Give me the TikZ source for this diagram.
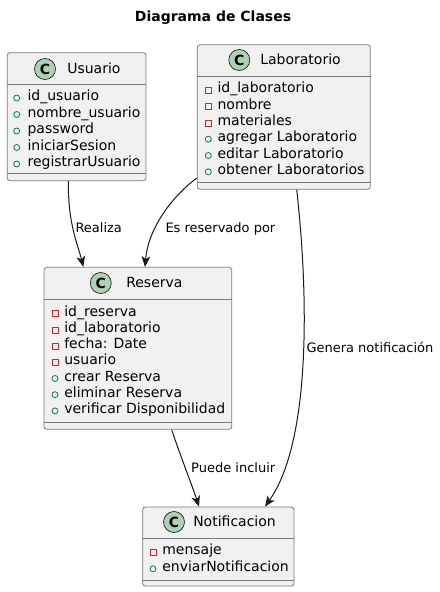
\documentclass[tikz,border=0pt]{standalone}
\usepackage{fontspec}
\setmainfont{DejaVu Sans}
\usetikzlibrary{fit,arrows.meta}

\definecolor{boxfill}{HTML}{F1F1F1}
\definecolor{umlline}{HTML}{181818}
\definecolor{boxline}{HTML}{7A7A7A}
\definecolor{circfill}{HTML}{ADD1B2}
\definecolor{privred}{HTML}{C82930}
\definecolor{pubgreen}{HTML}{038048}

\tikzset{
  classbox/.style={draw=boxline, line width=0.6pt, fill=boxfill, rounded corners=2pt, inner sep=0pt},
  sepline/.style={draw=boxline, line width=0.6pt},
  stereo/.style={circle, draw=umlline, line width=0.5pt, fill=circfill, minimum size=15.75pt, inner sep=0pt, font=\fontsize{10.5}{12}\selectfont\bfseries},
  cname/.style={anchor=base west, inner sep=0pt, font=\fontsize{10.5}{12}\selectfont},
  member/.style={anchor=base west, inner sep=0pt, font=\fontsize{10.5}{12}\selectfont},
  priv/.style={rectangle, draw=privred, line width=0.6pt, minimum size=4.5pt, inner sep=0pt},
  pub/.style={circle, draw=pubgreen, line width=0.6pt, minimum size=4.5pt, inner sep=0pt},
  assoc/.style={draw=umlline, line width=0.75pt, -{Stealth[length=8pt, width=6.5pt, inset=2.2pt]}},
  lbl/.style={anchor=base west, inner sep=0pt, font=\fontsize{9.75}{11}\selectfont},
}

\begin{document}
\begin{tikzpicture}[x=0.75pt, y=-0.75pt]
  \useasboundingbox (0,0) rectangle (439,592);
  \node[inner sep=0pt, font=\fontsize{10.5}{12}\selectfont\bfseries] (title) at (213,18) {Diagrama de Clases};

  % Usuario
  \node[classbox, fit={(7.3,52.7) (146,180.7)}] (usuario) {};
  \draw[sepline] (usuario.west |- 0,84) -- (usuario.east |- 0,84);
  \draw[sepline] (usuario.west |- 0,173) -- (usuario.east |- 0,173);
  \node[stereo] (usuario-c) at (45,69) {C};
  \node[cname] (usuario-n) at (67,73.5) {Usuario};
  \foreach \m/\v [count=\i from 0] in {id\_usuario/pub, nombre\_usuario/pub, password/pub, iniciarSesion/pub, registrarUsuario/pub} {
    \node[\v] (usuario-v\i) at (16.7, 98+16.5*\i) {};
    \node[member] (usuario-m\i) at (27.3, 100.5+16.5*\i) {\m};
  }

  % Laboratorio
  \node[classbox, fit={(197.3,44.7) (370.3,189.3)}] (laboratorio) {};
  \draw[sepline] (laboratorio.west |- 0,76) -- (laboratorio.east |- 0,76);
  \draw[sepline] (laboratorio.west |- 0,182.7) -- (laboratorio.east |- 0,182.7);
  \node[stereo] (laboratorio-c) at (239.3,60) {C};
  \node[cname] (laboratorio-n) at (260,64.5) {Laboratorio};
  \foreach \m/\v [count=\i from 0] in {id\_laboratorio/priv, nombre/priv, materiales/priv, agregar Laboratorio/pub, editar Laboratorio/pub, obtener Laboratorios/pub} {
    \node[\v] (laboratorio-v\i) at (208.3, 90.3+16.3*\i) {};
    \node[member] (laboratorio-m\i) at (217.3, 92.8+16.3*\i) {\m};
  }

  % Reserva
  \node[classbox, fit={(44,267.3) (231.7,429.3)}] (reserva) {};
  \draw[sepline] (reserva.west |- 0,299.3) -- (reserva.east |- 0,299.3);
  \draw[sepline] (reserva.west |- 0,422) -- (reserva.east |- 0,422);
  \node[stereo] (reserva-c) at (100.8,283) {C};
  \node[cname] (reserva-n) at (126,287.5) {Reserva};
  \foreach \m/\v [count=\i from 0] in {id\_reserva/priv, id\_laboratorio/priv, fecha: Date/priv, usuario/priv, crear Reserva/pub, eliminar Reserva/pub, verificar Disponibilidad/pub} {
    \node[\v] (reserva-v\i) at (55, 313.7+16.2*\i) {};
    \node[member] (reserva-m\i) at (64, 316.2+16.2*\i) {\m};
  }

  % Notificacion
  \node[classbox, fit={(142.7,507) (294,586)}] (notificacion) {};
  \draw[sepline] (notificacion.west |- 0,538) -- (notificacion.east |- 0,538);
  \draw[sepline] (notificacion.west |- 0,580) -- (notificacion.east |- 0,580);
  \node[stereo] (notificacion-c) at (174,522) {C};
  \node[cname] (notificacion-n) at (193,526.5) {Notificacion};
  \foreach \m/\v [count=\i from 0] in {mensaje/priv, enviarNotificacion/pub} {
    \node[\v] (notificacion-v\i) at (153, 552+16.8*\i) {};
    \node[member] (notificacion-m\i) at (162, 554.5+16.8*\i) {\m};
  }

  % asociaciones
  \draw[assoc] (68.3,0 |- usuario.south) .. controls (68,225) and (78,245) .. (83.3,0 |- reserva.north)
    node[lbl] (l-realiza) at (75,232.5) {Realiza};
  \draw[assoc] (laboratorio.west |- 0,178) .. controls (170,198) and (148,230) .. (145,0 |- reserva.north)
    node[lbl] (l-reservado) at (165,232.5) {Es reservado por};
  \draw[assoc] (171.7,0 |- reserva.south) .. controls (180,455) and (192,485) .. (199,0 |- notificacion.north)
    node[lbl] (l-incluir) at (190.7,472.5) {Puede incluir};
  \draw[assoc] (296.7,0 |- laboratorio.south) .. controls (308,290) and (312,440) .. (265,0 |- notificacion.north)
    node[lbl] (l-genera) at (306,352.5) {Genera notificación};
\end{tikzpicture}
\end{document}
